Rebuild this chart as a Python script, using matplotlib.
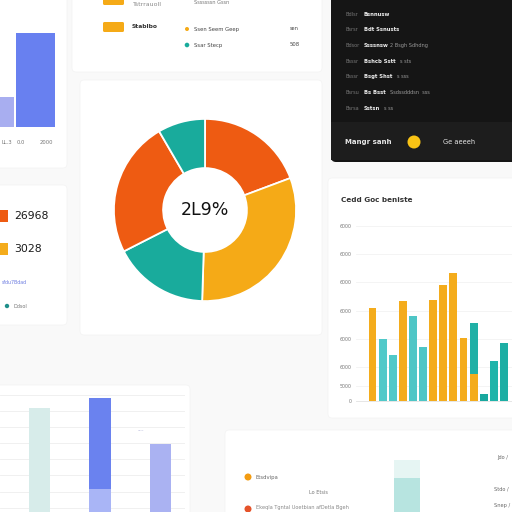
import matplotlib
matplotlib.use("Agg")
import matplotlib.pyplot as plt
import matplotlib.patches as mpatches
import numpy as np

# donut
donut_values = [19.3, 31.2, 17.0, 24.1, 8.4]
donut_colors = ["#EE5B12", "#F5AA17", "#19AB9C", "#EE5B12", "#19AB9C"]
donut_label = "2L9%"

# right bar chart
bar_values = [3330, 2200, 1640, 3570, 3040, 1940, 3600, 4140, 4560, 2260, 2790, 250, 1440, 2060]
bar_colors = ["#F4AC1C", "#50C9C9", "#50C9C9", "#F4AC1C", "#4EC6C6", "#4EC6C6", "#F4AC1C",
              "#F4AC1C", "#F4AC1C", "#F4AC1C", "#20B0A6", "#18A89E", "#20B4AA", "#1CAEA4"]
overlay_values = [0, 0, 0, 0, 0, 0, 0, 0, 0, 0, 950, 0, 0, 0]
bar_ticks = [0, 550, 1200, 2200, 3200, 4250, 5250, 6230]
bar_ticklabels = ["0", "5000", "6000", "6000", "6000", "6000", "6000", "6000"]
bar_title = "Cedd Goc beniste"

# top-left bars
tl_values = [30, 94]
tl_colors = ["#A8AEF0", "#6880F0"]
tl_labels = ["LL.3", "0.0", "2000"]

# bottom-left bars
bl_values = [6.42, 7.06, 4.2]
bl_lower = [0, 1.42, 0]
bl_colors = ["#D7ECEA", "#6A82EF", "#AAB2F2"]
bl_lower_color = "#A9B5F6"
bl_grid = [0.26, 1.26, 2.26, 3.26, 4.26, 5.26, 6.26, 7.2]

# bottom bar
bb_value = [52]
bb_cap = [18]

# dark panel rows
dark_labels = ["Bdlsr", "Bsrsr", "Bdsor", "Bsssr", "Bsssr", "Bsrsu", "Bsrsa"]
dark_values = ["Bsnnusw", "Bdt Ssnusts", "Ssssnsw", "Bshcb Sstt", "Bsgt Shst", "Bs Bsst", "Sstsn"]
dark_extra = ["", "", "2 Bsgh Sdhdng", "s sts", "s sss", "Ssdssdddsn  sss", "s ss"]

# left stats
stat_values = ["26968", "3028"]
stat_colors = ["#EE5B12", "#F4AC1C"]


def box(x0, y0, x1, y1):
    return [x0 / 512, 1 - y1 / 512, (x1 - x0) / 512, (y1 - y0) / 512]


fig = plt.figure(figsize=(5.12, 5.12), dpi=100)
fig.patch.set_facecolor("#F9F9F9")

bg = fig.add_axes([0, 0, 1, 1])
bg.set_xlim(0, 512)
bg.set_ylim(512, 0)
bg.axis("off")

# cards
for (x0, y0, x1, y1) in [(-5, -5, 67, 168), (72, -5, 322, 72), (80, 80, 322, 335),
                         (-5, 185, 67, 325), (328, 178, 517, 418),
                         (-5, 385, 190, 517), (225, 430, 517, 517)]:
    bg.add_patch(mpatches.FancyBboxPatch((x0, y0), x1 - x0, y1 - y0,
                                         boxstyle="round,pad=0,rounding_size=4",
                                         fc="white", ec="#F3F3F3", lw=0.5))

# dark panel
bg.add_patch(mpatches.FancyBboxPatch((331, -10), 190, 172, boxstyle="round,pad=0,rounding_size=5",
                                     fc="#151515", ec="none"))
bg.add_patch(mpatches.Rectangle((331, 122), 190, 38, fc="#1D1D1D", ec="none"))
for i, (lab, val, ext) in enumerate(zip(dark_labels, dark_values, dark_extra)):
    y = 14 + i * 15.7
    bg.text(345, y, lab, color="#777777", fontsize=3.6, va="center")
    bg.text(364, y, val, color="#EEEEEE", fontsize=3.8, va="center", fontweight="bold")
    if ext:
        bg.text(364 + len(val) * 3.2 + 4, y, ext, color="#999999", fontsize=3.6, va="center")
bg.text(345, 142, "Mangr sanh", color="#E6E6E6", fontsize=5, va="center", fontweight="bold")
bg.add_patch(mpatches.Circle((414, 142), 6.5, fc="#F9C315", ec="none"))
bg.text(443, 142, "Ge aeeeh", color="#E6E6E6", fontsize=4.8, va="center")

# top middle legend
bg.add_patch(mpatches.FancyBboxPatch((103, -4), 21, 9, boxstyle="round,pad=0,rounding_size=1.5",
                                     fc="#F5AA17", ec="none"))
bg.add_patch(mpatches.FancyBboxPatch((103, 22), 21, 10, boxstyle="round,pad=0,rounding_size=1.5",
                                     fc="#F5AA17", ec="none"))
bg.text(133, 4, "Tstrrauoll", color="#8A8A8A", fontsize=4.5, va="center")
bg.text(132, 27, "Stablbo", color="#333333", fontsize=4.3, va="center", fontweight="bold")
bg.add_patch(mpatches.Circle((187, 29), 2, fc="#F5AA17", ec="none"))
bg.add_patch(mpatches.Circle((187, 45), 2.3, fc="#19AB9C", ec="none"))
bg.text(194, 29, "Ssen Seem Geep", color="#444444", fontsize=3.8, va="center")
bg.text(194, 45, "Ssar Stecp", color="#444444", fontsize=3.8, va="center")
bg.text(290, 29, "sen", color="#444444", fontsize=3.6, va="center")
bg.text(290, 45, "508", color="#444444", fontsize=3.8, va="center")
bg.text(194, 3, "Sssssssn Gssn", color="#777777", fontsize=3.6, va="center")

# top-left labels
for x, t in zip([1, 17, 40], tl_labels):
    bg.text(x, 142, t, color="#777777", fontsize=3.8, va="center")

# left stats
for i, (v, c) in enumerate(zip(stat_values, stat_colors)):
    y = 216 + i * 32.5
    bg.add_patch(mpatches.Rectangle((-2, y - 6), 10, 12, fc=c, ec="none"))
    bg.text(14, y, v, color="#1A1A1A", fontsize=7.8, va="center")
bg.text(2, 282, "sfdu7Bdad", color="#6A7AE0", fontsize=3.4, va="center")
bg.add_patch(mpatches.Circle((7, 306), 2.2, fc="#1F8F8A", ec="none"))
bg.text(13, 306, "Ddsol", color="#777777", fontsize=3.6, va="center")

# bottom legend
bg.add_patch(mpatches.Circle((248, 477), 3.5, fc="#F39C12", ec="none"))
bg.text(256, 477, "Etsdvipa", color="#666666", fontsize=3.8, va="center")
bg.text(318, 492, "Lo Etsis", color="#777777", fontsize=3.6, va="center", ha="center")
bg.add_patch(mpatches.Circle((248, 509), 3.5, fc="#E5532A", ec="none"))
bg.text(256, 508, "Ekeqla Tgntal Uoetbian afDetla Bgeh", color="#888888", fontsize=3.6, va="center")
bg.text(497, 457, "Jdo /", color="#666666", fontsize=3.6, va="center")
bg.text(494, 489, "Stdo /", color="#666666", fontsize=3.6, va="center")
bg.text(494, 505, "Snep /", color="#666666", fontsize=3.6, va="center")
bg.text(138, 430, "----", color="#8C90C8", fontsize=3.2, va="center")

# donut
ax = fig.add_axes(box(113, 118, 297, 302))
ax.pie(donut_values, colors=donut_colors, startangle=90, counterclock=False,
       wedgeprops=dict(width=0.54, edgecolor="white", linewidth=1.3))
ax.set_xlim(-1.01, 1.01)
ax.set_ylim(-1.01, 1.01)
ax.set_aspect("equal")
ax.text(0, 0, donut_label, ha="center", va="center", fontsize=12.5, color="#111111")

# right bar chart
ax = fig.add_axes(box(356, 220, 512, 401))
x = np.arange(len(bar_values))
ax.bar(x, bar_values, width=0.78, color=bar_colors, zorder=2)
ax.bar(x, overlay_values, width=0.78, color="#F4AC1C", zorder=3)
ax.set_xlim(-1.63, 13.8)
ax.set_ylim(0, 6460)
ax.set_yticks(bar_ticks)
ax.set_yticklabels(bar_ticklabels)
ax.tick_params(axis="y", length=0, pad=3, labelsize=3.4, labelcolor="#777777")
ax.set_xticks([])
for v in bar_ticks[1:]:
    ax.axhline(v, color="#F3F3F3", lw=0.6, zorder=1)
for s in ["top", "right", "left"]:
    ax.spines[s].set_visible(False)
ax.spines["bottom"].set_color("#E2E2E2")
ax.spines["bottom"].set_linewidth(0.6)
ax.patch.set_alpha(0)
bg.text(341, 200, bar_title, color="#333333", fontsize=5.2, va="center", fontweight="bold")

# top-left bars
ax = fig.add_axes(box(0, 0, 65, 127))
ax.bar([0, 1], tl_values, width=0.95, color=tl_colors)
ax.set_xlim(0.134, 1.72)
ax.set_ylim(0, 127)
ax.axis("off")

# bottom-left bars
ax = fig.add_axes(box(0, 385, 185, 512))
for g in bl_grid:
    ax.axhline(g, color="#EEEEEE", lw=0.6, zorder=1)
xb = np.array([0, 1, 2])
ax.bar(xb, bl_values, width=0.35, color=bl_colors, zorder=2)
ax.bar(xb, bl_lower, width=0.35, color=bl_lower_color, zorder=3)
ax.set_xlim(-0.65, 2.4)
ax.set_ylim(0, 7.84)
ax.axis("off")

# bottom single bar
ax = fig.add_axes(box(380, 440, 434, 512))
ax.bar([0], bb_value, width=0.48, color="#B7E4E0")
ax.bar([0], bb_cap, bottom=np.array(bb_value) - np.array(bb_cap), width=0.48, color="#E6F5F3")
ax.set_xlim(-0.5, 0.5)
ax.set_ylim(0, 72)
ax.axis("off")

fig.savefig("out.png", dpi=100, facecolor=fig.get_facecolor())
